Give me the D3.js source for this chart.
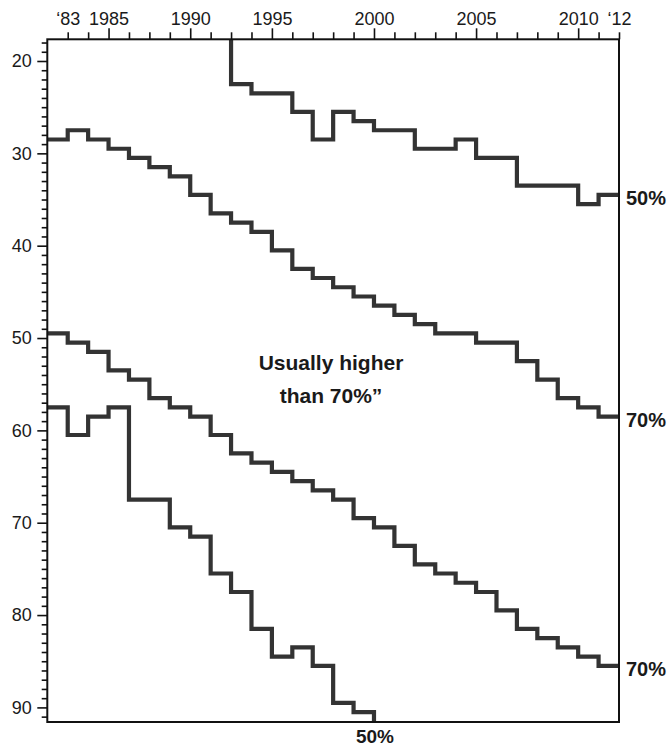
<!DOCTYPE html>
<html>
<head>
<meta charset="utf-8">
<script src="https://cdn.jsdelivr.net/npm/d3@7"></script>
<style>
  html, body { margin: 0; padding: 0; background: #fff; }
  svg { display: block; }
  text { font-family: "Liberation Sans", Arial, Helvetica, sans-serif; }
</style>
</head>
<body>
<svg id="chart" width="668" height="748"></svg>
<script>
// ---- Data ----
// x positions are ordinal period boundaries 0..28 (interval i spans i..i+1)
const xTickIndex = d3.range(1, 29);
const xTickLabels = { 1: "‘83", 3: "1985", 7: "1990", 11: "1995", 16: "2000", 21: "2005", 26: "2010", 28: "‘12" };
const xMajorTicks = [3, 7, 11, 16, 21, 26];

const yTicks = d3.range(18, 92);
const yLabelTicks = [20, 30, 40, 50, 60, 70, 80, 90];

// One value per interval (null = no data; values outside the axis are clipped)
const seriesA50 = [null, null, null, null, null, null, null, null, 10,
  22.5, 23.5, 23.5, 25.5, 28.5, 25.5, 26.5, 27.5, 27.5, 29.5, 29.5,
  28.5, 30.5, 30.5, 33.5, 33.5, 33.5, 35.5, 34.5];
const seriesB70 = [28.5, 27.5, 28.5, 29.5, 30.5, 31.5, 32.5, 34.5, 36.5, 37.5,
  38.5, 40.5, 42.5, 43.5, 44.5, 45.5, 46.5, 47.5, 48.5, 49.5,
  49.5, 50.5, 50.5, 52.5, 54.5, 56.5, 57.5, 58.5];
const seriesC70 = [49.5, 50.5, 51.5, 53.5, 54.5, 56.5, 57.5, 58.5, 60.5, 62.5,
  63.5, 64.5, 65.5, 66.5, 67.5, 69.5, 70.5, 72.5, 74.5, 75.5,
  76.5, 77.5, 79.5, 81.5, 82.5, 83.5, 84.5, 85.5];
const seriesD50 = [57.5, 60.5, 58.5, 57.5, 67.5, 67.5, 70.5, 71.5, 75.5, 77.5,
  81.5, 84.5, 83.5, 85.5, 89.5, 90.5, 100, null, null, null,
  null, null, null, null, null, null, null, null];

const rightLabels = [
  { series: seriesA50, text: "50%" },
  { series: seriesB70, text: "70%" },
  { series: seriesC70, text: "70%" }
];
const bottomLabel = { series: seriesD50, text: "50%" };
const annotationLines = ["Usually higher", "than 70%”"];

(function () {
// ---- Layout ----
const svg = d3.select("#chart");
const pLeft = 47.3, pRight = 619, pTop = 39.3, pBottom = 722;

const x = d3.scaleLinear().domain([0, 28]).range([pLeft, pRight]);
const y = d3.scaleLinear().domain([17.65, 91.58]).range([pTop, pBottom]);

const lineColor = "#333";
const textColor = "#1a1a1a";

// clip
svg.append("defs").append("clipPath").attr("id", "plotclip")
  .append("rect").attr("x", pLeft).attr("y", pTop)
  .attr("width", pRight - pLeft).attr("height", pBottom - pTop);

// top axis
const xAxis = d3.axisTop(x)
  .tickValues(xTickIndex)
  .tickSize(11)
  .tickPadding(3)
  .tickFormat(d => xTickLabels[d] || "");
const gx = svg.append("g").attr("transform", `translate(0,${pTop})`).call(xAxis);
gx.select(".domain").remove();
gx.selectAll(".tick line")
  .attr("stroke", "#111").attr("stroke-width", 1.6)
  .attr("y2", d => xMajorTicks.includes(d) ? -11 : -7);
gx.selectAll(".tick text")
  .attr("fill", textColor).style("font-size", "18px");

// left axis
const yAxis = d3.axisLeft(y)
  .tickValues(yTicks)
  .tickSize(10)
  .tickPadding(5.6)
  .tickFormat(d => yLabelTicks.includes(d) ? d : "");
const gy = svg.append("g").attr("transform", `translate(${pLeft},0)`).call(yAxis);
gy.select(".domain").remove();
gy.selectAll(".tick line")
  .attr("stroke", "#111").attr("stroke-width", 1.6)
  .attr("x2", d => d % 10 === 0 ? -10 : -5.6);
gy.selectAll(".tick text")
  .attr("fill", textColor).style("font-size", "18px");

// step lines
const stepLine = d3.line()
  .x(d => x(d.i))
  .y(d => y(d.v))
  .curve(d3.curveStepAfter);

function toPoints(values) {
  const pts = [];
  values.forEach((v, i) => { if (v !== null) pts.push({ i, v }); });
  const last = pts[pts.length - 1];
  pts.push({ i: last.i + 1, v: last.v });
  return pts;
}

const gLines = svg.append("g").attr("clip-path", "url(#plotclip)");
[seriesA50, seriesB70, seriesC70, seriesD50].forEach(s => {
  gLines.append("path")
    .datum(toPoints(s))
    .attr("d", stepLine)
    .attr("fill", "none")
    .attr("stroke", lineColor)
    .attr("stroke-width", 4.2)
    .attr("stroke-linejoin", "miter")
    .attr("stroke-linecap", "butt");
});

// frame
svg.append("rect")
  .attr("x", pLeft).attr("y", pTop)
  .attr("width", pRight - pLeft).attr("height", pBottom - pTop)
  .attr("fill", "none").attr("stroke", "#111").attr("stroke-width", 2);

// right end labels
rightLabels.forEach(l => {
  const lastV = l.series[l.series.length - 1];
  svg.append("text")
    .attr("x", pRight + 7)
    .attr("y", y(lastV) + 10)
    .attr("fill", textColor)
    .style("font-size", "20px").style("font-weight", "bold")
    .text(l.text);
});

// bottom label where series D leaves the chart
{
  const idx = bottomLabel.series.findIndex(v => v !== null && v > y.domain()[1]);
  svg.append("text")
    .attr("x", x(idx) + 1)
    .attr("y", 743)
    .attr("text-anchor", "middle")
    .attr("fill", textColor)
    .style("font-size", "19px").style("font-weight", "bold")
    .text(bottomLabel.text);
}

// annotation
annotationLines.forEach((t, k) => {
  svg.append("text")
    .attr("x", 331)
    .attr("y", 370 + k * 32.5)
    .attr("text-anchor", "middle")
    .attr("fill", textColor)
    .style("font-size", "21px").style("font-weight", "bold")
    .text(t);
});
})();
</script>
</body>
</html>
